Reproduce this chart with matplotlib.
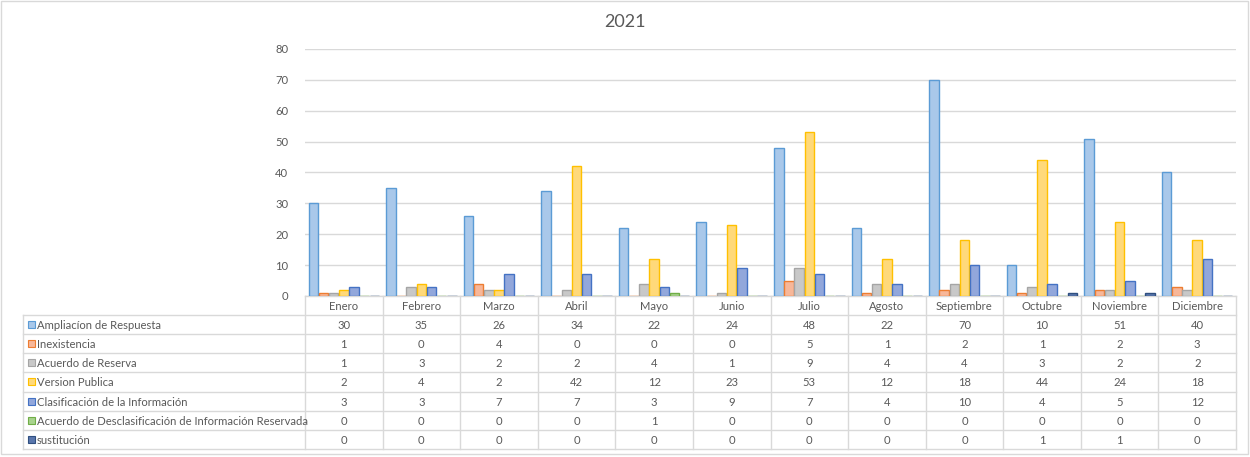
import numpy as np
import matplotlib.pyplot as plt
from matplotlib.patches import Rectangle

# Datos
meses = ['Enero', 'Febrero', 'Marzo', 'Abril', 'Mayo', 'Junio', 'Julio',
         'Agosto', 'Septiembre', 'Octubre', 'Noviembre', 'Diciembre']
series = ['Ampliacíon de Respuesta', 'Inexistencia', 'Acuerdo de Reserva',
          'Version Publica', 'Clasificación de la Información',
          'Acuerdo de Desclasificación de Información Reservada', 'sustitución']
ampliacion = [30, 35, 26, 34, 22, 24, 48, 22, 70, 10, 51, 40]
inexistencia = [1, 0, 4, 0, 0, 0, 5, 1, 2, 1, 2, 3]
reserva = [1, 3, 2, 2, 4, 1, 9, 4, 4, 3, 2, 2]
version_publica = [2, 4, 2, 42, 12, 23, 53, 12, 18, 44, 24, 18]
clasificacion = [3, 3, 7, 7, 3, 9, 7, 4, 10, 4, 5, 12]
desclasificacion = [0, 0, 0, 0, 1, 0, 0, 0, 0, 0, 0, 0]
sustitucion = [0, 0, 0, 0, 0, 0, 0, 0, 0, 1, 1, 0]
valores = [ampliacion, inexistencia, reserva, version_publica,
           clasificacion, desclasificacion, sustitucion]

rellenos = ['#A9C8EA', '#F7B799', '#C8C8C8', '#FFD97A', '#92A7DB', '#A8D38D', '#5A77AD']
bordes = ['#5B9BD5', '#ED7D31', '#A5A5A5', '#FFC000', '#4472C4', '#70AD47', '#2F4F80']

gris_txt = '#595959'
gris_lin = '#D9D9D9'
plt.rcParams['font.family'] = ['Lato', 'DejaVu Sans']
fs = 8.1

W, H = 1250, 457
fig = plt.figure(figsize=(12.5, 4.57), dpi=100)

# zona del grafico (pixeles)
x0, x1 = 305, 1236
y_top, y_base = 49, 296
ax = fig.add_axes([x0 / W, 1 - y_base / H, (x1 - x0) / W, (y_base - y_top) / H])

n = len(series)
paso = 0.131
x = np.arange(len(meses))
for i, (nombre, v) in enumerate(zip(series, valores)):
    pos = x + 0.5 + (i - (n - 1) / 2) * paso
    ax.bar(pos, v, width=paso * 0.93, color=rellenos[i], edgecolor=bordes[i],
           linewidth=1, label=nombre, zorder=3)

ax.set_xlim(0, len(meses))
ax.set_ylim(0, 80)
ax.set_yticks(range(0, 81, 10))
ax.yaxis.grid(True, color=gris_lin, linewidth=1, zorder=0)
ax.tick_params(axis='y', length=0, labelsize=fs, labelcolor=gris_txt, pad=12)
ax.set_xticks([])
for s in ax.spines.values():
    s.set_visible(False)
ax.patch.set_alpha(0)

# tabla de datos
tb = fig.add_axes([0, 0, 1, 1], zorder=-1)
tb.set_xlim(0, W)
tb.set_ylim(H, 0)
tb.axis('off')

tb.add_patch(Rectangle((1, 1), W - 3, 453, fill=False, edgecolor=gris_lin, linewidth=1))
tb.text(W / 2, 22, '2021', ha='center', va='center', fontsize=13, color=gris_txt)

col_w = (x1 - x0) / len(meses)
x_izq = 23
fila0 = 296
alto = 19.1
filas_y = [fila0 + k * alto for k in range(n + 2)]

# lineas horizontales
tb.plot([x0, x1], [filas_y[0]] * 2, color=gris_lin, lw=1)
for yy in filas_y[1:]:
    tb.plot([x_izq, x1], [yy, yy], color=gris_lin, lw=1)
# lineas verticales
tb.plot([x_izq, x_izq], [filas_y[1], filas_y[-1]], color=gris_lin, lw=1)
for j in range(len(meses) + 1):
    xx = x0 + j * col_w
    tb.plot([xx, xx], [filas_y[0], filas_y[-1]], color=gris_lin, lw=1)

for j, m in enumerate(meses):
    tb.text(x0 + (j + 0.5) * col_w, (filas_y[0] + filas_y[1]) / 2 + 1, m,
            ha='center', va='center', fontsize=fs, color=gris_txt)

for i, (nombre, v) in enumerate(zip(series, valores)):
    yc = (filas_y[i + 1] + filas_y[i + 2]) / 2 + 1
    tb.add_patch(Rectangle((28, yc - 4.5), 7, 7, facecolor=rellenos[i],
                           edgecolor=bordes[i], linewidth=0.8))
    tb.text(37, yc, nombre, ha='left', va='center', fontsize=fs, color=gris_txt)
    for j, val in enumerate(v):
        tb.text(x0 + (j + 0.5) * col_w, yc, str(val), ha='center', va='center',
                fontsize=fs, color=gris_txt)

fig.savefig('out.png', dpi=100)
